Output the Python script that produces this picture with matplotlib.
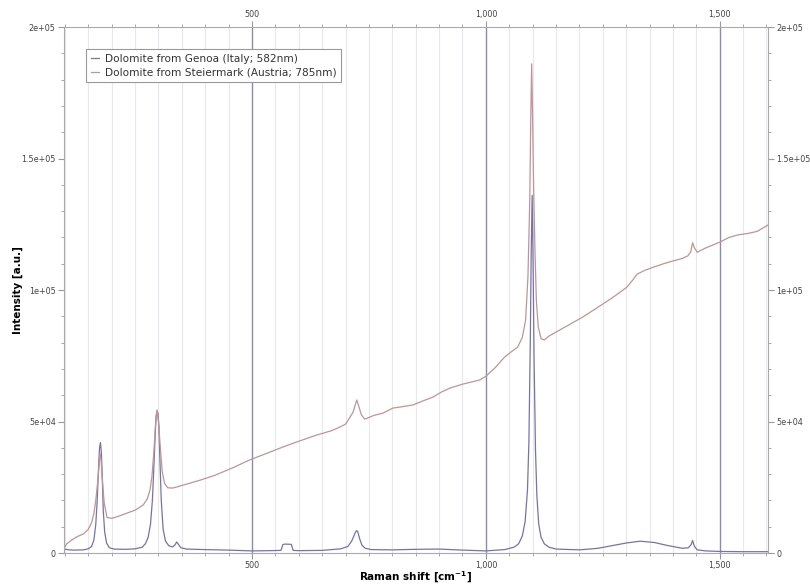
import numpy as np
import matplotlib
matplotlib.use("Agg")
import matplotlib.pyplot as plt
from matplotlib.ticker import MultipleLocator, FuncFormatter

# Raman spectra (cm^-1, counts)
genoa_x = [98, 110, 120, 140, 150, 157, 162, 166, 169, 172, 174, 176, 178, 180,
           182, 185, 189, 195, 205, 230, 250, 265, 272, 278, 283, 287, 290, 293,
           295, 297, 299, 301, 303, 306, 310, 315, 322, 330, 335, 339, 343, 348,
           360, 400, 450, 500, 540, 562, 566, 570, 584, 588, 600, 650, 690, 705,
           713, 719, 723, 726, 730, 735, 742, 755, 800, 850, 900, 950, 1000, 1040,
           1060, 1070, 1078, 1084, 1089, 1092, 1095, 1097, 1099, 1101, 1103, 1106,
           1109, 1113, 1118, 1125, 1135, 1150, 1200, 1240, 1270, 1300, 1330, 1360,
           1390, 1420, 1433, 1439, 1442, 1446, 1452, 1470, 1500, 1550, 1603]
genoa_y = [1500, 1200, 1100, 1200, 1600, 2500, 5000, 11000, 20000, 33000, 40000,
           42000, 38000, 28000, 16000, 8000, 3800, 2000, 1500, 1400, 1600, 2200,
           3500, 6000, 11000, 20000, 32000, 45000, 52000, 54000, 53000, 48000,
           36000, 20000, 9000, 4500, 2800, 2300, 3000, 4200, 3200, 2000, 1500, 1300,
           1100, 800, 900, 1000, 3200, 3400, 3300, 1000, 900, 1000, 1600, 2500,
           4500, 7000, 8500, 8200, 5500, 3000, 1800, 1300, 1200, 1400, 1500, 1100,
           800, 1300, 2200, 3500, 6500, 12000, 24000, 42000, 80000, 115000, 136000,
           110000, 75000, 40000, 22000, 11000, 6000, 3500, 2200, 1500, 1200, 1800,
           2800, 3800, 4500, 4000, 2800, 1800, 2000, 3200, 4800, 2500, 1200, 800,
           600, 500, 500]

steier_x = [98, 104, 115, 126, 140, 150, 157, 162, 166, 170, 173, 175, 177, 180,
            184, 190, 200, 215, 233, 250, 267, 276, 282, 286, 290, 293, 295, 297,
            300, 304, 308, 313, 320, 330, 339, 360, 389, 420, 460, 495, 530, 566,
            600, 639, 670, 688, 700, 709, 716, 721, 724, 728, 734, 741, 760, 780,
            801, 820, 844, 865, 887, 905, 923, 950, 987, 1000, 1020, 1040, 1055,
            1068, 1078, 1085, 1090, 1094, 1096, 1098, 1100, 1102, 1105, 1108, 1112,
            1118, 1125, 1135, 1150, 1169, 1190, 1207, 1240, 1270, 1301, 1315, 1323,
            1340, 1360, 1380, 1399, 1420, 1432, 1438, 1442, 1446, 1452, 1470, 1500,
            1520, 1540, 1560, 1580, 1603]
steier_y = [1900, 3500, 5000, 6200, 7300, 9000, 11500, 15000, 20000, 27000, 33000,
            38000, 36000, 28000, 19000, 13500, 13200, 14000, 15200, 16300, 18200,
            20500, 24000, 29000, 38000, 47000, 52000, 54400, 50000, 40000, 31000,
            26500, 24800, 24700, 25100, 26200, 27700, 29500, 32500, 35400, 37800,
            40300, 42500, 44900, 46500, 47900, 49000, 51500, 53500, 56500, 58200,
            56000, 52500, 50900, 52300, 53200, 55100, 55600, 56300, 57800, 59300,
            61200, 62700, 64200, 65800, 67200, 70500, 74500, 76600, 78300, 82000,
            88600, 105000, 135000, 165000, 186000, 165000, 140000, 115000, 96000,
            86000, 81500, 81000, 82500, 84000, 85900, 88000, 89700, 93500, 97000,
            101000, 104000, 106000, 107500, 108800, 110000, 111000, 112000, 113000,
            114500, 118000, 116000, 114400, 116000, 118200, 120000, 121000, 121500,
            122300, 124700]

labels = ["Dolomite from Genoa (Italy; 582nm)",
          "Dolomite from Steiermark (Austria; 785nm)"]


def yfmt(v, pos):
    if v == 0:
        return "0"
    return {50000: "5e+04", 100000: "1e+05", 150000: "1.5e+05", 200000: "2e+05"}.get(int(round(v)), "")


fig = plt.figure(figsize=(8.1, 5.88), dpi=100)
ax = fig.add_axes([0.079, 0.0595, 0.869, 0.8945])

ax.plot(genoa_x, genoa_y, color="#7474aa", lw=0.9, label=labels[0])
ax.plot(steier_x, steier_y, color="#c09494", lw=0.9, label=labels[1])

ax.set_xlim(98, 1603)
ax.set_ylim(0, 200000)

ax.xaxis.set_major_locator(MultipleLocator(500))
ax.xaxis.set_minor_locator(MultipleLocator(50))
ax.yaxis.set_major_locator(MultipleLocator(50000))
ax.yaxis.set_minor_locator(MultipleLocator(10000))
ax.xaxis.set_major_formatter(FuncFormatter(lambda v, p: f"{int(v):,}"))
ax.yaxis.set_major_formatter(FuncFormatter(yfmt))

ax.grid(True, which="minor", axis="x", color="#e8e8ee", lw=0.8)
ax.grid(True, which="major", axis="x", color="#8a8ab4", lw=1.0)
ax.set_axisbelow(True)

ax.tick_params(which="both", top=True, right=True, labeltop=True, labelright=True,
               direction="out", colors="#999999", labelcolor="#444444", labelsize=5.8,
               pad=2)
ax.tick_params(which="major", length=4)
ax.tick_params(which="minor", length=2.5)
for s in ax.spines.values():
    s.set_color("#aaaaaa")
    s.set_linewidth(0.8)

ax.set_xlabel("Raman shift [cm$^{\\mathbf{-1}}$]", fontsize=7.5, fontweight="bold")
ax.set_ylabel("Intensity [a.u.]", fontsize=7.5, fontweight="bold")
ax.xaxis.set_label_coords(0.5, -0.032)
ax.yaxis.set_label_coords(-0.058, 0.5)

leg = ax.legend(loc="upper left", bbox_to_anchor=(0.024, 0.968), fontsize=7.6,
                handlelength=0.8, handletextpad=0.5, borderpad=0.45, labelspacing=0.35,
                fancybox=False, framealpha=1)
leg.get_frame().set_edgecolor("#999999")
leg.get_frame().set_linewidth(0.8)
for t in leg.get_texts():
    t.set_color("#333333")

fig.savefig("out.png", dpi=100)
